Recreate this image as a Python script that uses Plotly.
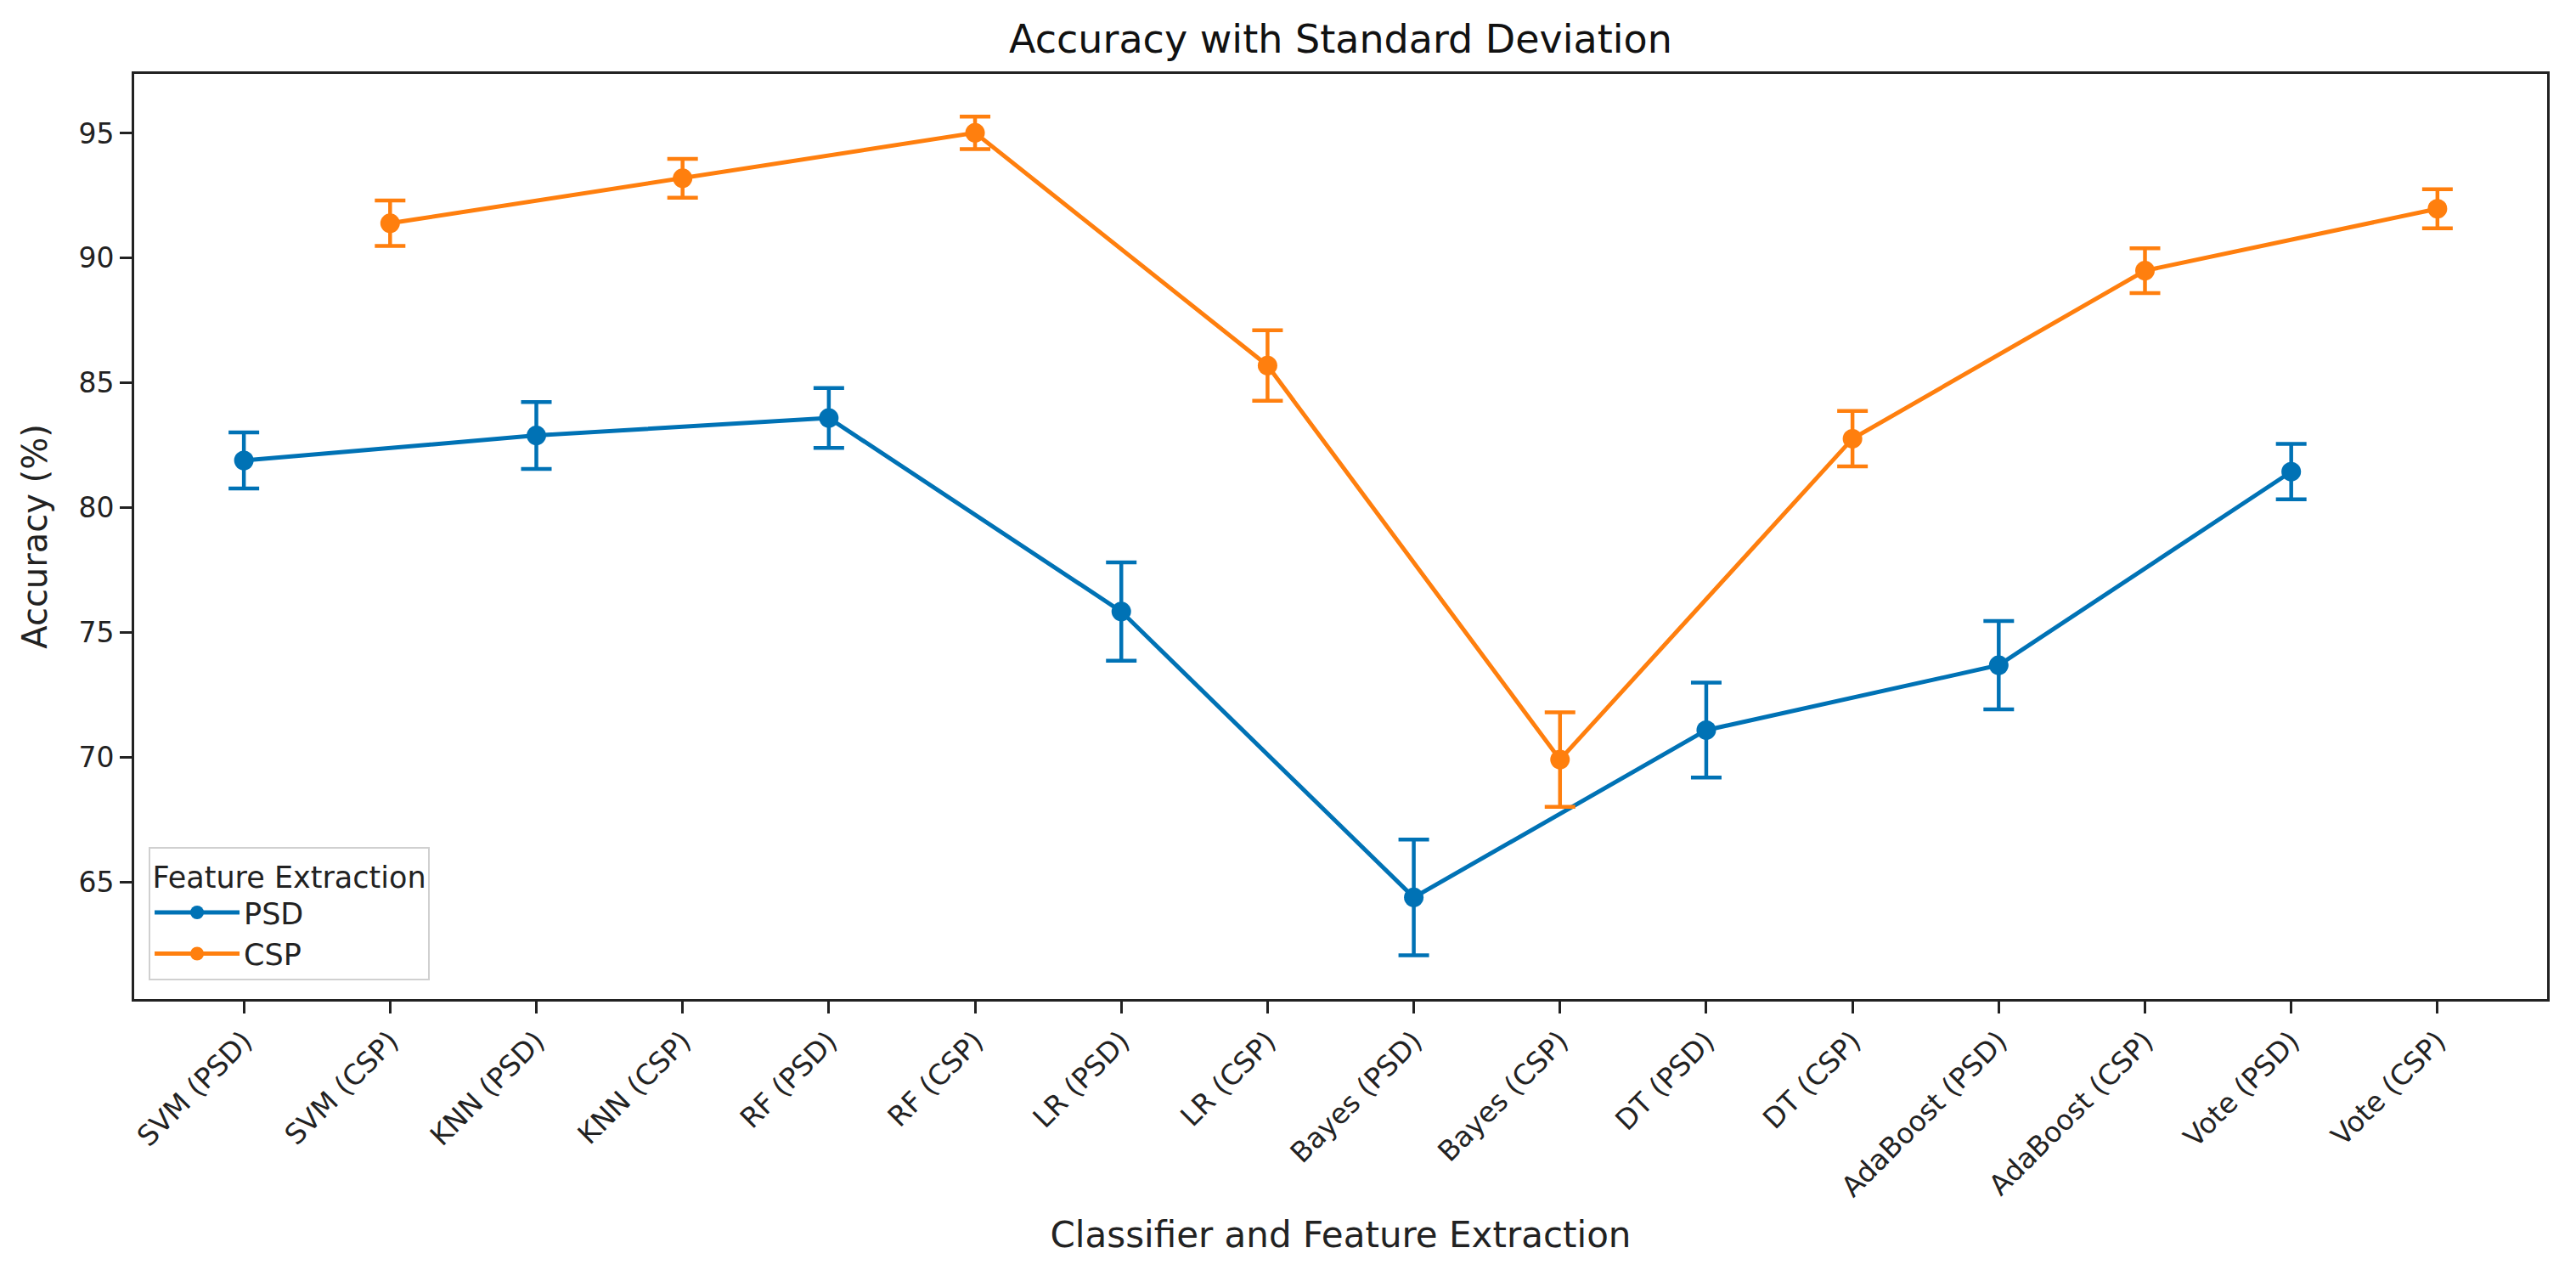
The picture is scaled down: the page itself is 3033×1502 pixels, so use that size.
import plotly.graph_objects as go

# ---- data ----
classifiers = ["SVM", "KNN", "RF", "LR", "Bayes", "DT", "AdaBoost", "Vote"]
tick_labels = ["SVM (PSD)", "SVM (CSP)", "KNN (PSD)", "KNN (CSP)", "RF (PSD)", "RF (CSP)",
               "LR (PSD)", "LR (CSP)", "Bayes (PSD)", "Bayes (CSP)", "DT (PSD)", "DT (CSP)",
               "AdaBoost (PSD)", "AdaBoost (CSP)", "Vote (PSD)", "Vote (CSP)"]
psd_mean = [81.9, 82.9, 83.6, 75.85, 64.4, 71.1, 73.7, 81.45]
psd_std = [1.12, 1.34, 1.2, 1.97, 2.32, 1.9, 1.77, 1.11]
csp_mean = [91.4, 93.2, 95.02, 85.7, 69.92, 82.77, 89.5, 91.98]
csp_std = [0.91, 0.78, 0.65, 1.41, 1.89, 1.11, 0.9, 0.78]
y_ticks = [65, 70, 75, 80, 85, 90, 95]

BLUE = "#0072B5"
ORANGE = "#FF7F0E"
FONT = "DejaVu Sans"

fig = go.Figure()
for name, means, stds, color in [("PSD", psd_mean, psd_std, BLUE),
                                 ("CSP", csp_mean, csp_std, ORANGE)]:
    fig.add_trace(go.Scatter(
        x=[f"{c} ({name})" for c in classifiers],
        y=means,
        name=name,
        mode="lines+markers",
        line=dict(color=color, width=5),
        marker=dict(color=color, size=23),
        error_y=dict(type="data", array=stds, visible=True,
                     color=color, thickness=4.5, width=18),
    ))

W, H = 3033, 1502
L, R, T, B = 150, 42, 79, 334
fig.update_layout(
    width=W, height=H,
    margin=dict(l=L, r=R, t=T, b=B),
    paper_bgcolor="white", plot_bgcolor="white",
    font=dict(family=FONT, size=33, color="#222222"),
    title=dict(text="Accuracy with Standard Deviation",
               font=dict(family=FONT, size=46, color="#111111"),
               x=(L + (W - R)) / 2 / W, xanchor="center",
               yref="container", y=1 - 38 / H, yanchor="middle"),
    showlegend=True,
    legend=dict(
        title=dict(text="Feature Extraction", side="top center",
                   font=dict(family=FONT, size=35, color="#222222")),
        font=dict(family=FONT, size=35, color="#222222"),
        x=0.006, y=0.02, xanchor="left", yanchor="bottom",
        bgcolor="rgba(255,255,255,0.85)",
        bordercolor="#d0d0d0", borderwidth=2,
        itemwidth=100,
        tracegroupgap=6,
    ),
)

fig.update_xaxes(
    type="category",
    categoryorder="array", categoryarray=tick_labels,
    tickvals=tick_labels, ticktext=tick_labels,
    range=[-0.75, len(tick_labels) - 0.25],
    tickangle=-45,
    showgrid=False, zeroline=False,
    showline=True, linecolor="#222222", linewidth=3, mirror=True,
    ticks="outside", ticklen=14, tickwidth=3, tickcolor="#222222",
    tickfont=dict(family=FONT, size=33, color="#222222"),
    title=dict(text="Classifier and Feature Extraction",
               font=dict(family=FONT, size=42, color="#222222"), standoff=24),
)
fig.update_yaxes(
    range=[60.33, 97.38],
    tickvals=y_ticks,
    showgrid=False, zeroline=False,
    showline=True, linecolor="#222222", linewidth=3, mirror=True,
    ticks="outside", ticklen=14, tickwidth=3, tickcolor="#222222",
    tickfont=dict(family=FONT, size=33, color="#222222"),
    title=dict(text="Accuracy (%)",
               font=dict(family=FONT, size=40, color="#222222"), standoff=25),
)

fig.write_html("out.html")
